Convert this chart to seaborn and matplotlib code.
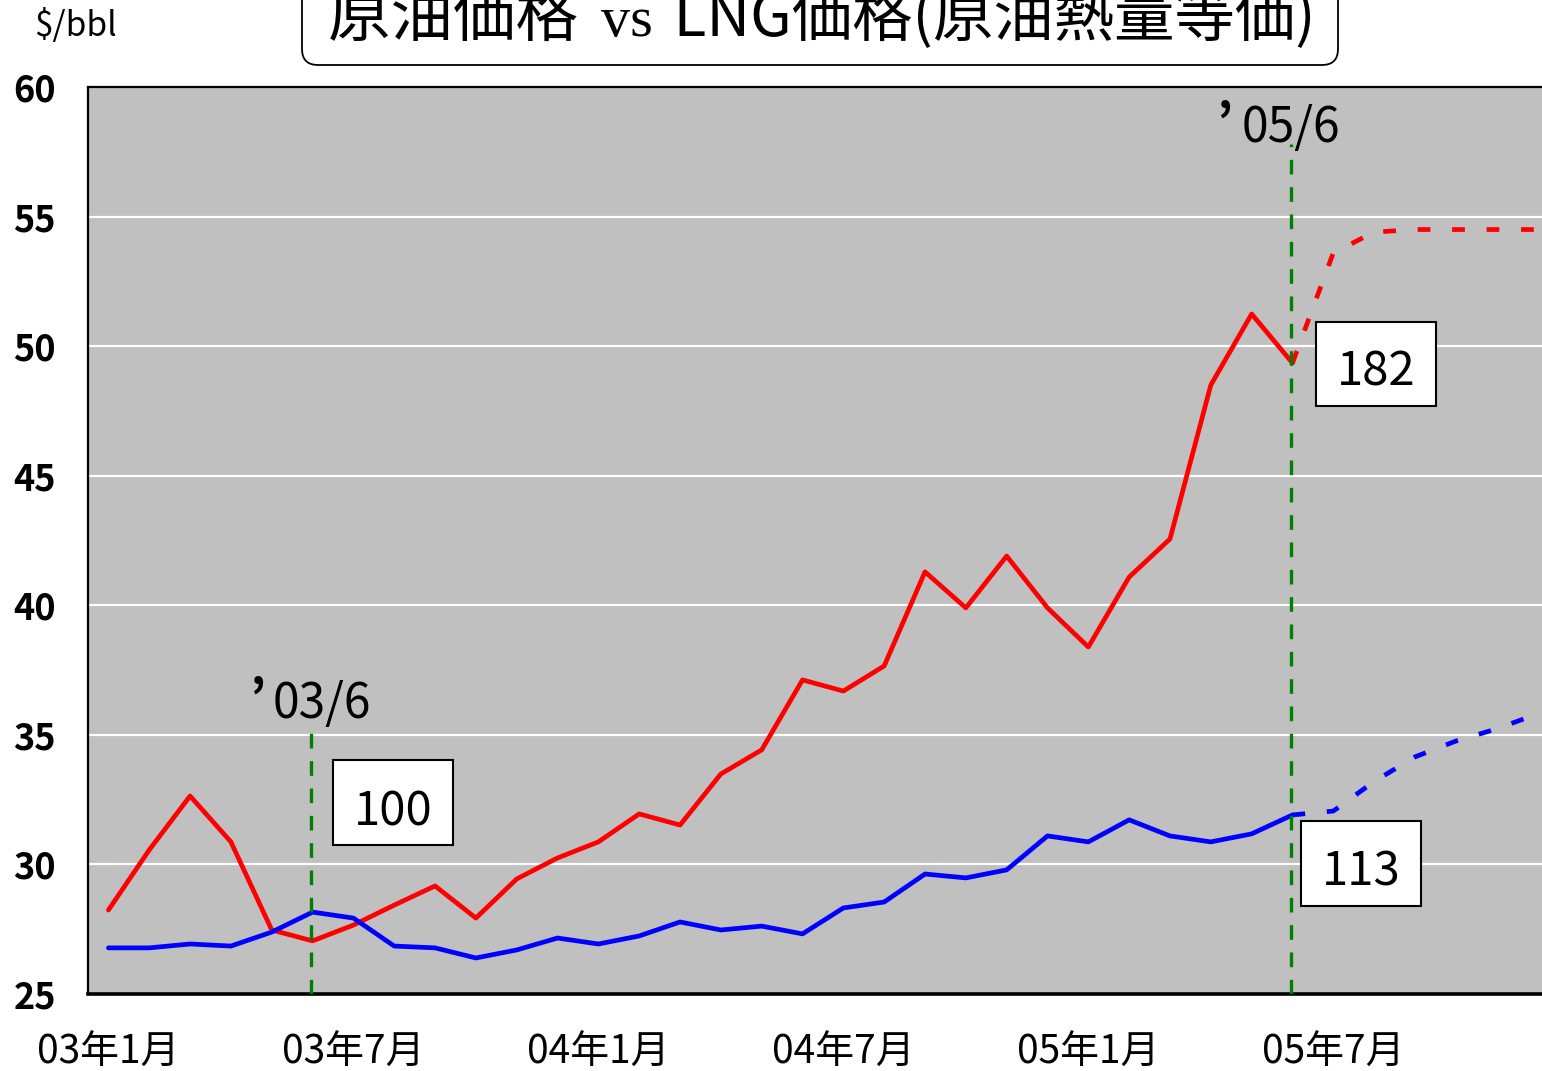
import numpy as np
import pandas as pd
import matplotlib
matplotlib.use("Agg")
import matplotlib.pyplot as plt
import seaborn as sns
from matplotlib.patches import Rectangle, FancyBboxPatch

# ---------------- data ----------------
months = list(range(30))  # 0 = 2003-01
crude = [28.24, 30.56, 32.64, 30.87, 27.47, 27.05, 27.66, 28.43, 29.17, 27.93,
         29.44, 30.25, 30.87, 31.95, 31.52, 33.49, 34.42, 37.12, 36.69, 37.66,
         41.29, 39.90, 41.90, 39.90, 38.39, 41.09, 42.56, 48.50, 51.24, 49.35]
lng = [26.78, 26.78, 26.93, 26.85, 27.39, 28.16, 27.93, 26.85, 26.78, 26.39,
       26.70, 27.16, 26.93, 27.24, 27.78, 27.47, 27.62, 27.32, 28.32, 28.55,
       29.63, 29.48, 29.79, 31.10, 30.87, 31.72, 31.10, 30.87, 31.18, 31.91]
proj_months = list(range(29, 37))
crude_proj = [49.35, 53.6, 54.4, 54.5, 54.5, 54.5, 54.5, 54.5]
lng_proj = [31.91, 32.06, 33.2, 34.15, 34.76, 35.23, 35.81, 36.3]
tick_months = [0, 6, 12, 18, 24, 30]
tick_labels = ['03年1月', '03年7月', '04年1月', '04年7月', '05年1月', '05年7月']
y_ticks = [25, 30, 35, 40, 45, 50, 55, 60]
marker_months = [5, 29]
marker_tops = [35.2, 57.8]
marker_labels = ['03/6', '05/6']
index_labels = ['100', '182', '113']
title_a = '原油価格 '
title_b = 'vs'
title_c = ' LNG価格(原油熱量等価)'
unit_label = '$/bbl'

df = pd.DataFrame({'x': [m + 0.5 for m in months], 'crude': crude, 'lng': lng})
dfp = pd.DataFrame({'x': [m + 0.5 for m in proj_months], 'crude': crude_proj, 'lng': lng_proj})

# ---------------- style ----------------
sns.set_theme(style="white")
plt.rcParams['font.family'] = ['Noto Sans CJK JP', 'DejaVu Sans']
plt.rcParams['text.color'] = 'black'
plt.rcParams['xtick.color'] = 'black'
plt.rcParams['ytick.color'] = 'black'
plt.rcParams['xtick.labelcolor'] = 'black'
plt.rcParams['ytick.labelcolor'] = 'black'

W, H = 1542, 1071
fig = plt.figure(figsize=(W / 100, H / 100), dpi=100)
fig.patch.set_facecolor('white')
ax = fig.add_axes([88 / W, (H - 994) / H, (W - 88) / W, 907 / H])
ax.set_facecolor('#C0C0C0')

LW = 3.4
sns.lineplot(data=df, x='x', y='crude', ax=ax, color='#FF0000', lw=LW, zorder=3)
sns.lineplot(data=df, x='x', y='lng', ax=ax, color='#0000FF', lw=LW, zorder=3)
sns.lineplot(data=dfp, x='x', y='crude', ax=ax, color='#FF0000', lw=LW,
             linestyle=(0, (2.7, 4.6)), zorder=3)
sns.lineplot(data=dfp, x='x', y='lng', ax=ax, color='#0000FF', lw=LW,
             linestyle=(0, (2.7, 4.6)), zorder=3)

for m, top in zip(marker_months, marker_tops):
    ax.plot([m + 0.47, m + 0.47], [y_ticks[0], top], color='#008000', lw=2.4,
            linestyle=(0, (4.4, 3.8)), zorder=4)

ax.set_xlim(0, (W - 88) / 40.83)
ax.set_ylim(y_ticks[0], y_ticks[-1])
ax.set_xlabel('')
ax.set_ylabel('')

ax.set_yticks(y_ticks)
ax.set_yticklabels([str(v) for v in y_ticks], fontweight='bold', fontsize=26, color='black')
ax.tick_params(axis='y', length=0, pad=23)
for v in y_ticks[1:-1]:
    ax.axhline(v, color='white', lw=1.6, zorder=1)

ax.set_xticks(tick_months)
ax.set_xticklabels([])
ax.set_xticks([m + 0.5 for m in tick_months], minor=True)
ax.set_xticklabels(tick_labels, minor=True, fontsize=28, color='black')
ax.tick_params(axis='x', which='major', direction='in', length=9, width=1.2, color='black')
ax.tick_params(axis='x', which='minor', length=0, pad=28)

for s in ['top', 'left']:
    ax.spines[s].set_color('black')
    ax.spines[s].set_linewidth(1.6)
ax.spines['bottom'].set_color('black')
ax.spines['bottom'].set_linewidth(2.6)
ax.spines['right'].set_visible(False)

# ---------------- annotations (pixel layout, inches transform) ----------------
T = fig.dpi_scale_trans
def P(x, y):
    return x / 100, (H - y) / 100

# marker labels: apostrophe + date
for (qx, dx, by), lab in zip([(249, 273, 718), (1216, 1242, 142)], marker_labels):
    fig.text(*P(qx, by - 2), '’', transform=T, fontsize=36, fontweight='bold',
             ha='left', va='baseline', color='black')
    fig.text(*P(dx, by), lab, transform=T, fontsize=34.5, ha='left', va='baseline',
             color='black')

# index boxes
for (x0, y0, x1, y1), lab in zip([(333, 760, 453, 845), (1316, 322, 1436, 406),
                                  (1301, 821, 1421, 906)], index_labels):
    r = Rectangle(P(x0, y1), (x1 - x0) / 100, (y1 - y0) / 100, transform=T,
                  facecolor='white', edgecolor='black', lw=1.5, zorder=10)
    fig.patches.append(r)
    fig.text(*P((x0 + x1) / 2, y1 - 20), lab, transform=T, fontsize=34,
             ha='center', va='baseline', zorder=11, color='black')

# title box
tb = FancyBboxPatch(P(302, 65), (1338 - 302) / 100, 1.0, transform=T,
                    boxstyle='round,pad=0,rounding_size=0.16',
                    facecolor='white', edgecolor='black', lw=1.3)
fig.patches.append(tb)
fig.text(*P(328, 36), title_a, transform=T, fontsize=45, ha='left', va='baseline',
         color='black')
fig.text(*P(601, 36), title_b, transform=T, fontsize=42, ha='left', va='baseline',
         family=['Liberation Serif'], color='black')
fig.text(*P(660, 36), title_c, transform=T, fontsize=43.5, ha='left', va='baseline',
         color='black')

fig.text(*P(34, 36), unit_label, transform=T, fontsize=24, ha='left', va='baseline',
         color='black')

fig.savefig('out.png', dpi=100)
